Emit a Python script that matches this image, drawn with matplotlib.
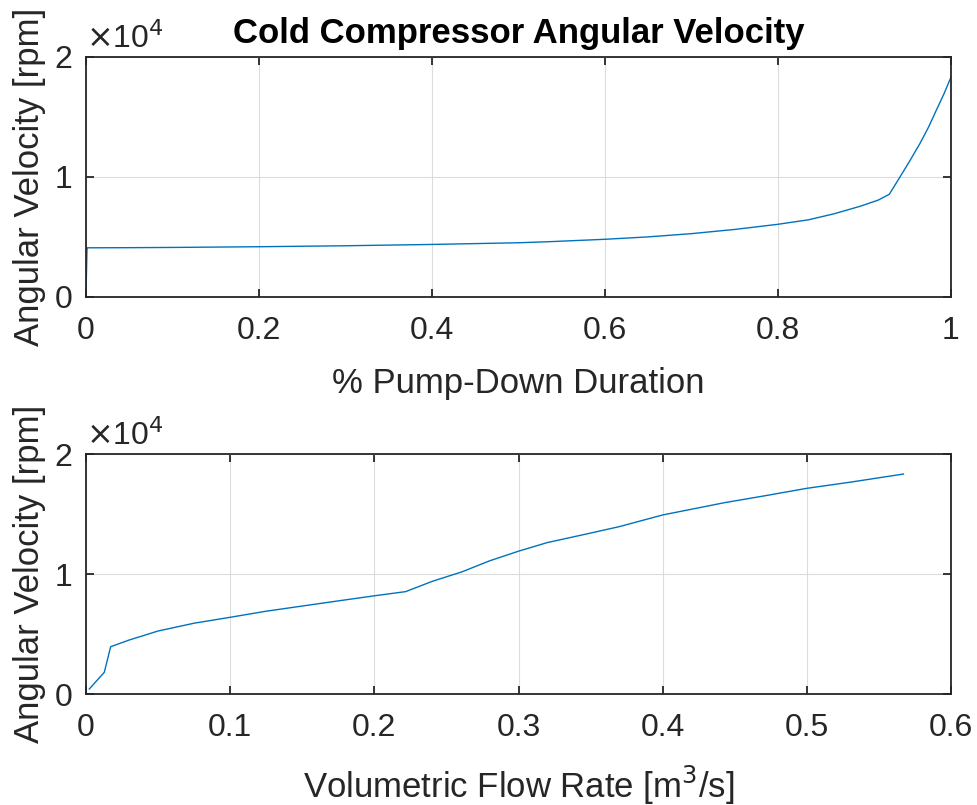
import matplotlib.pyplot as plt
import numpy as np

plt.rcParams['font.family'] = ['Liberation Sans', 'DejaVu Sans']

# top panel: angular velocity vs fraction of pump-down duration
pump_frac = [0.0, 0.0012, 0.002, 0.05, 0.1, 0.2, 0.3, 0.4, 0.5, 0.536, 0.6, 0.65,
             0.7, 0.75, 0.8, 0.835, 0.864, 0.895, 0.916, 0.9287, 0.941, 0.952,
             0.964, 0.974, 0.983, 0.992, 1.0]
pump_rpm = [300, 4100, 4100, 4110, 4130, 4190, 4270, 4380, 4520, 4610, 4810, 5010,
            5280, 5630, 6060, 6430, 6920, 7560, 8080, 8560, 10000, 11300,
            12780, 14150, 15560, 16950, 18330]

# bottom panel: angular velocity vs volumetric flow rate
flow_rate = [0.0023, 0.0127, 0.0171, 0.03, 0.05, 0.075, 0.0999, 0.125, 0.15,
             0.175, 0.2004, 0.2217, 0.24, 0.261, 0.28, 0.3, 0.32, 0.347, 0.37, 0.4,
             0.4427, 0.47, 0.5, 0.53, 0.567]
flow_rpm = [420, 1810, 3940, 4500, 5250, 5900, 6390, 6900, 7330, 7760, 8190, 8530,
            9380, 10190, 11100, 11900, 12620, 13330, 13950, 14920,
            15940, 16500, 17140, 17650, 18330]

line_color = '#0072BD'
ax_color = '#262626'


def style_axes(ax):
    ax.grid(True, color='#dcdcdc', linewidth=0.8)
    ax.set_axisbelow(True)
    ax.tick_params(direction='in', top=True, right=True, length=6, width=1.3,
                   colors=ax_color, labelsize=23)
    ax.tick_params(axis='x', pad=13.5)
    ax.tick_params(axis='y', pad=10)
    for s in ax.spines.values():
        s.set_color(ax_color)
        s.set_linewidth(1.3)
    ax.set_ylim(0, 20000)
    ax.set_yticks([0, 10000, 20000])
    ax.set_yticklabels(['0', '1', '2'])
    ax.text(0.0, 1.01, r'$\times$10$^4$', transform=ax.transAxes, fontsize=23,
            color=ax_color, ha='left', va='bottom')
    ax.set_ylabel('Angular Velocity [rpm]', fontsize=25, color=ax_color, labelpad=6)


fig = plt.figure(figsize=(9.77, 8.05), dpi=100)
ax1 = fig.add_axes([86/977, 1-297/805, 865/977, 240/805])
ax2 = fig.add_axes([86/977, 1-694/805, 865/977, 240/805])

ax1.plot(pump_frac, pump_rpm, color=line_color, linewidth=1.0)
style_axes(ax1)
ax1.set_xlim(0, 1)
ax1.set_xticks([0, 0.2, 0.4, 0.6, 0.8, 1])
ax1.set_xticklabels(['0', '0.2', '0.4', '0.6', '0.8', '1'])
ax1.set_xlabel('% Pump-Down Duration', fontsize=25, color=ax_color, labelpad=15)
ax1.set_title('Cold Compressor Angular Velocity', fontsize=25, fontweight='bold', pad=10)

ax2.plot(flow_rate, flow_rpm, color=line_color, linewidth=1.0)
style_axes(ax2)
ax2.set_xlim(0, 0.6)
ax2.set_xticks([0, 0.1, 0.2, 0.3, 0.4, 0.5, 0.6])
ax2.set_xticklabels(['0', '0.1', '0.2', '0.3', '0.4', '0.5', '0.6'])
ax2.set_xlabel('Volumetric Flow Rate [m$^3$/s]', fontsize=25, color=ax_color, labelpad=15)

fig.savefig('out.png', dpi=100)
